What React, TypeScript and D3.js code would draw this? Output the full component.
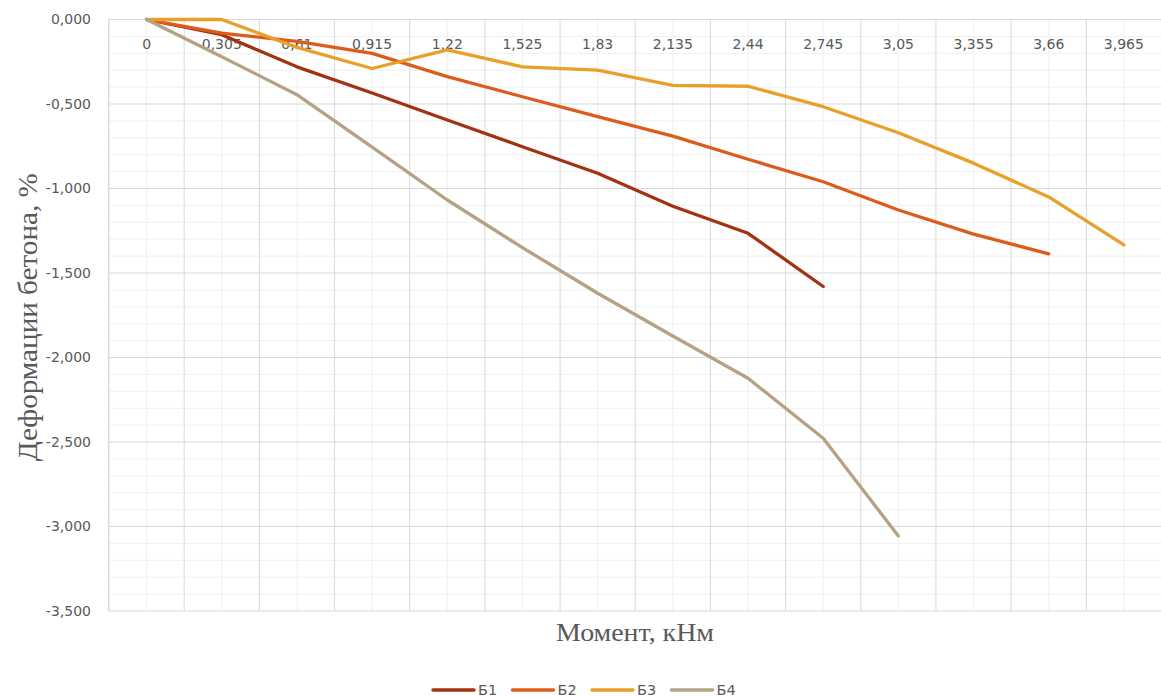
import React, { useEffect } from "react";
import * as d3 from "d3";

// Bending moment, kN·m (category axis)
const moments = [0, 0.305, 0.61, 0.915, 1.22, 1.525, 1.83, 2.135, 2.44, 2.745, 3.05, 3.355, 3.66, 3.965];

// Concrete strain, % — one array per beam
const b1 = [0, -0.09, -0.28, -0.435, -0.595, -0.753, -0.91, -1.105, -1.265, -1.58];
const b2 = [0, -0.08, -0.13, -0.2, -0.338, -0.457, -0.575, -0.69, -0.827, -0.96, -1.127, -1.27, -1.387];
const b3 = [0, 0, -0.165, -0.29, -0.18, -0.28, -0.3, -0.39, -0.395, -0.516, -0.67, -0.85, -1.05, -1.334];
const b4 = [0, -0.22, -0.445, -0.755, -1.068, -1.35, -1.62, -1.873, -2.123, -2.478, -3.056];

const seriesNames = ["Б1", "Б2", "Б3", "Б4"];
const seriesValues = [b1, b2, b3, b4];
const seriesColors = ["#A33212", "#DD5C1C", "#E9A02A", "#B5A283"];

const yMajorTicks = [0, -0.5, -1, -1.5, -2, -2.5, -3, -3.5];

const W = 1161;
const H = 697;

const locale = d3.formatLocale({
  decimal: ",",
  thousands: " ",
  grouping: [3],
  currency: ["", ""],
  minus: "-",
});
const fmtY = locale.format(".3f");
const fmtX = (v: number) => String(v).replace(".", ",");

export default function App() {
  useEffect(() => {
    document.body.style.margin = "0";
  }, []);

  const plotLeft = 108.5;
  const plotRight = 1161.5;
  const plotTop = 19.5;
  const plotBottom = 611;

  const x = d3
    .scalePoint<string>()
    .domain(moments.map(String))
    .range([plotLeft + 0.5, plotRight])
    .padding(0.5);
  const step = x.step();

  const y = d3.scaleLinear().domain([-3.5, 0]).range([plotBottom, plotTop]);

  const minorY = d3.range(0, 36).map((i) => -i / 10).filter((v) => Math.abs((v * 10) % 5) > 1e-6);

  const catCenters = moments.map((m) => x(String(m)) as number);
  const catBounds = catCenters.map((c) => c - step / 2).concat([catCenters[catCenters.length - 1] + step / 2]);

  const line = d3
    .line<number>()
    .x((_, i) => x(String(moments[i])) as number)
    .y((d) => y(d));

  const axisColor = "#595959";
  const tickFont = "'DejaVu Sans', sans-serif";
  const legendX0 = 433;
  const legendGap = 79.5;
  const legendY = 690;

  return (
    <svg width={W} height={H} style={{ display: "block", background: "#fff" }}>
      {/* minor horizontal grid */}
      {minorY.map((v) => (
        <line key={"mh" + v} x1={plotLeft} x2={plotRight} y1={y(v)} y2={y(v)} stroke="#F0F0F0" strokeWidth={1} />
      ))}
      {/* minor vertical grid at category centers */}
      {catCenters.map((c, i) => (
        <line key={"mv" + i} x1={c} x2={c} y1={plotTop} y2={plotBottom} stroke="#F0F0F0" strokeWidth={1} />
      ))}
      {/* major horizontal grid */}
      {yMajorTicks.map((v) => (
        <line key={"h" + v} x1={plotLeft} x2={plotRight} y1={y(v)} y2={y(v)} stroke="#D9D9D9" strokeWidth={1} />
      ))}
      {/* major vertical grid at category boundaries */}
      {catBounds.map((b, i) => (
        <line key={"v" + i} x1={b} x2={b} y1={plotTop} y2={plotBottom} stroke="#D9D9D9" strokeWidth={1} />
      ))}
      <line x1={plotLeft} x2={plotLeft} y1={plotTop} y2={plotBottom} stroke="#D9D9D9" strokeWidth={1} />

      {/* y tick labels */}
      {yMajorTicks.map((v) => (
        <text
          key={"yl" + v}
          x={91}
          y={y(v)}
          dy="0.35em"
          textAnchor="end"
          fontFamily={tickFont}
          fontSize={14}
          fill={axisColor}
        >
          {fmtY(v)}
        </text>
      ))}

      {/* x tick labels, placed just under the zero line */}
      {moments.map((m) => (
        <text
          key={"xl" + m}
          x={x(String(m)) as number}
          y={44}
          dy="0.35em"
          textAnchor="middle"
          fontFamily={tickFont}
          fontSize={14}
          fill={axisColor}
        >
          {fmtX(m)}
        </text>
      ))}

      {/* series */}
      {seriesValues.map((vals, i) => (
        <path
          key={seriesNames[i]}
          d={line(vals) || ""}
          fill="none"
          stroke={seriesColors[i]}
          strokeWidth={3.3}
          strokeLinejoin="round"
          strokeLinecap="round"
        />
      ))}

      {/* axis titles */}
      <text
        x={(plotLeft + plotRight) / 2}
        y={632}
        dy="0.35em"
        textAnchor="middle"
        fontFamily="'Liberation Serif', 'Times New Roman', serif"
        fontSize={25.5}
        textLength={158}
        lengthAdjust="spacingAndGlyphs"
        fill={axisColor}
      >
        Момент, кНм
      </text>
      <text
        transform={`translate(27, ${(plotTop + plotBottom) / 2 + 2}) rotate(-90)`}
        textAnchor="middle"
        dy="0.35em"
        fontFamily="'Liberation Serif', 'Times New Roman', serif"
        fontSize={27.5}
        textLength={288}
        lengthAdjust="spacingAndGlyphs"
        fill={axisColor}
      >
        Деформации бетона, %
      </text>

      {/* legend */}
      {seriesNames.map((name, i) => {
        const lx = legendX0 + i * legendGap;
        return (
          <g key={"lg" + name}>
            <line
              x1={lx}
              x2={lx + 41}
              y1={legendY}
              y2={legendY}
              stroke={seriesColors[i]}
              strokeWidth={3.5}
              strokeLinecap="round"
            />
            <text
              x={lx + 45}
              y={legendY}
              dy="0.35em"
              fontFamily={tickFont}
              fontSize={14.5}
              fill={axisColor}
            >
              {name}
            </text>
          </g>
        );
      })}
    </svg>
  );
}
